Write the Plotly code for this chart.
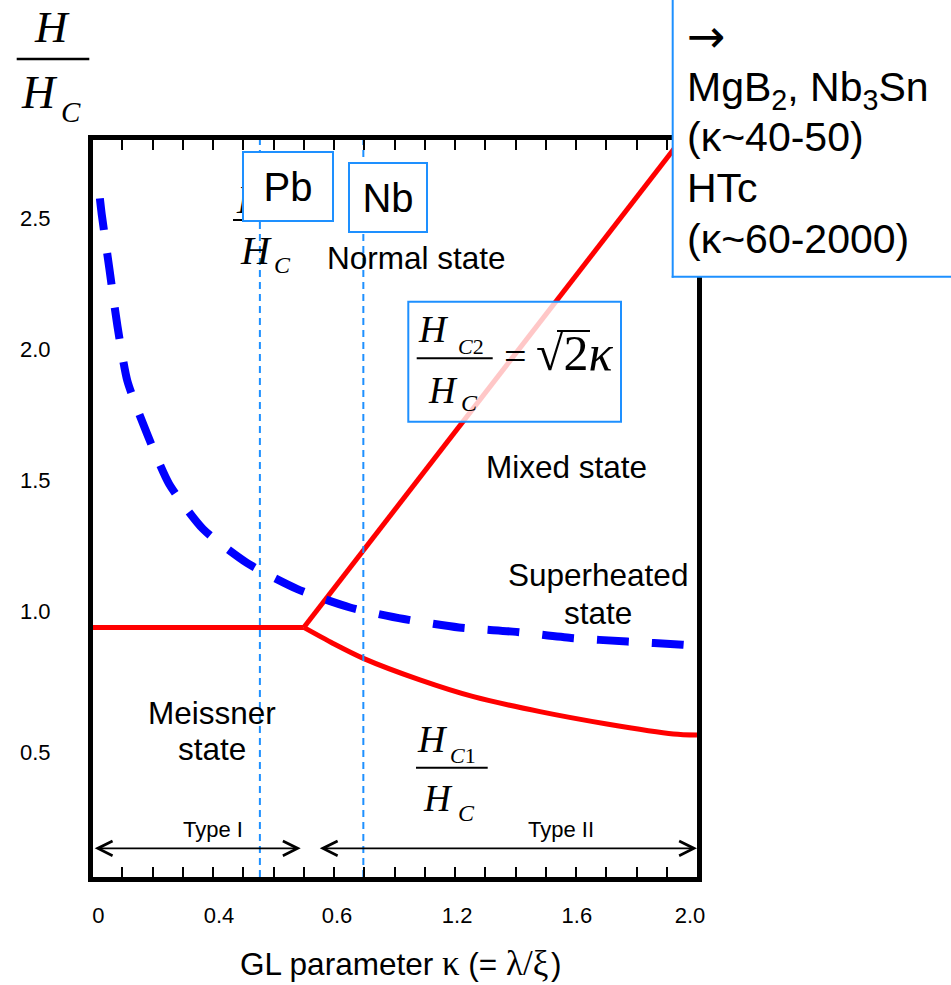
import plotly.graph_objects as go

# ---------------- data ----------------
# thermodynamic critical field line Hc/Hc (Type I boundary)
kappa_hc = [0.0, 0.70]
hc_ratio = [0.94, 0.94]

# upper critical field Hc2/Hc
kappa_hc2 = [0.70, 1.955]
hc2_ratio = [0.94, 2.81]

# lower critical field Hc1/Hc
kappa_hc1 = [0.70, 0.797, 0.897, 1.084, 1.261, 1.481, 1.702, 1.922, 2.0]
hc1_ratio = [0.94, 0.879, 0.822, 0.740, 0.676, 0.619, 0.572, 0.534, 0.530]

# superheating field Hsh/Hc
kappa_sh = [0.026, 0.032, 0.058, 0.084, 0.117, 0.181, 0.255, 0.367, 0.512,
            0.679, 0.853, 1.031, 1.213, 1.402, 1.584, 1.770, 1.952, 2.0]
hsh_ratio = [2.575, 2.516, 2.302, 2.089, 1.879, 1.681, 1.487, 1.315, 1.186,
             1.086, 1.016, 0.972, 0.940, 0.923, 0.900, 0.886, 0.874, 0.869]

# materials marked with vertical dashed lines
materials = ["Pb", "Nb"]
kappa_materials = [0.555, 0.897]

# Type I / Type II ranges (kappa)
type1_range = [0.004, 0.690]
type2_range = [0.748, 2.0]
type_arrow_level = 0.098

# axis tick labels
x_tick_vals = [0.021, 0.420, 0.810, 1.207, 1.603, 1.977]
x_tick_text = ["0", "0.4", "0.6", "1.2", "1.6", "2.0"]
y_tick_vals = [0.463, 1.0, 1.5, 2.0, 2.5]
y_tick_text = ["0.5", "1.0", "1.5", "2.0", "2.5"]
minor_tick_vals = [0.1, 0.2, 0.3, 0.4, 0.5, 0.6, 0.7, 0.8, 0.9, 1.0,
                   1.1, 1.2, 1.3, 1.4, 1.5, 1.6, 1.7, 1.8, 1.9]

X_RANGE = [0.0033, 2.0]
Y_RANGE = [-0.0111, 2.7976]

# ---------------- layout helpers ----------------
W, H = 951, 985
X0, X1, Y0, Y1 = 93, 697, 140, 877   # plot area in pixels
SANS = "Liberation Sans, Arial, sans-serif"
SERIF = "Liberation Serif, Times New Roman, serif"
BOXBLUE = "#1E90FF"


def px(x):
    return (x - X0) / (X1 - X0)


def py(y):
    return (Y1 - y) / (Y1 - Y0)


fig = go.Figure()

red = dict(color="#FF0000", width=5)
fig.add_trace(go.Scatter(x=kappa_hc, y=hc_ratio, mode="lines", line=red,
                         name="Hc", hoverinfo="skip"))
fig.add_trace(go.Scatter(x=kappa_hc2, y=hc2_ratio, mode="lines", line=red,
                         name="Hc2", hoverinfo="skip"))
fig.add_trace(go.Scatter(x=kappa_hc1, y=hc1_ratio, mode="lines",
                         line=dict(color="#FF0000", width=5, shape="spline", smoothing=0.8),
                         name="Hc1", hoverinfo="skip"))
fig.add_trace(go.Scatter(x=kappa_sh, y=hsh_ratio, mode="lines",
                         line=dict(color="#0000FF", width=8, dash="32px,23px",
                                   shape="spline", smoothing=0.6),
                         name="Hsh", hoverinfo="skip"))
for name, k in zip(materials, kappa_materials):
    fig.add_trace(go.Scatter(x=[k, k], y=Y_RANGE, mode="lines",
                             line=dict(color=BOXBLUE, width=2, dash="7px,5px"),
                             name=name, hoverinfo="skip"))

shapes = []
annotations = []


def text(x, y, s, size, family=SANS, xanchor="center", yanchor="middle"):
    annotations.append(dict(x=px(x), y=py(y), xref="paper", yref="paper", text=s,
                            showarrow=False, xanchor=xanchor, yanchor=yanchor,
                            font=dict(size=size, family=family, color="black")))


def seg(xa, xb, ya, yb, width=2, color="black"):
    shapes.append(dict(type="line", xref="paper", yref="paper", x0=px(xa), x1=px(xb),
                       y0=py(ya), y1=py(yb), line=dict(color=color, width=width),
                       layer="above"))


def hline(xa, xb, y, width=2, color="black"):
    seg(xa, xb, y, y, width, color)


def rect(xa, xb, ya, yb, fill, border=True):
    shapes.append(dict(type="rect", xref="paper", yref="paper", x0=px(xa), x1=px(xb),
                       y0=py(yb), y1=py(ya), fillcolor=fill,
                       line=dict(color=BOXBLUE, width=2 if border else 0), layer="above"))


# y-axis title fraction H / H_C (top left)
hline(16.7, 89.3, 59, width=2.5)
text(51.5, 26.5, "<i>H</i>", 45, SERIF)
text(39.2, 92.5, "<i>H</i>", 46, SERIF)
text(70.8, 111.7, "<i>C</i>", 29, SERIF)

# partially hidden fraction behind the Pb box
hline(233, 300, 220)
text(252, 200, "<i>H</i>", 40, SERIF)
text(255.8, 250, "<i>H</i>", 40, SERIF)
text(282.5, 265, "<i>C</i>", 24, SERIF)

# Pb / Nb labels (boxes)
annotations.append(dict(x=px(287.5), y=py(186.2), xref="paper", yref="paper", text="Pb",
                        showarrow=False, font=dict(size=40, family=SANS, color="black"),
                        bgcolor="white", bordercolor=BOXBLUE, borderwidth=2, borderpad=0,
                        width=88, height=67, xanchor="center", yanchor="middle"))
annotations.append(dict(x=px(388.3), y=py(197.8), xref="paper", yref="paper", text="Nb",
                        showarrow=False, font=dict(size=40, family=SANS, color="black"),
                        bgcolor="white", bordercolor=BOXBLUE, borderwidth=2, borderpad=0,
                        width=76, height=67, xanchor="center", yanchor="middle"))

# region labels
text(416.5, 257.6, "Normal state", 31.5)
text(566.3, 466.6, "Mixed state", 31.5)
text(597.5, 575.3, "Superheated", 31.5)
text(597.5, 612.6, "state", 31.5)
text(211.7, 712.6, "Meissner", 31.5)
text(211.8, 749.3, "state", 31.5)

# Hc2 formula box
rect(408.3, 621, 301.7, 421.7, "rgba(255,255,255,0.78)")
hline(416.7, 492.7, 358.3)
text(433.3, 329.2, "<i>H</i>", 38, SERIF)
text(470.8, 346.3, "<i>C</i>2", 22, SERIF)
text(442.5, 390.3, "<i>H</i>", 37, SERIF)
text(469.7, 403.3, "<i>C</i>", 24, SERIF)
text(515.3, 356.3, "=", 40, SERIF)
text(574, 353, "√2<i>κ</i>", 50, SERIF)
hline(557, 590, 331, width=2)

# Hc1 label
hline(416, 487.7, 767.7)
text(432.5, 739.2, "<i>H</i>", 38, SERIF)
text(462.5, 755, "<i>C</i>1", 22, SERIF)
text(438.3, 798, "<i>H</i>", 37, SERIF)
text(466.7, 813.3, "<i>C</i>", 24, SERIF)

# Type I / Type II arrows
for rng in (type1_range, type2_range):
    annotations.append(dict(x=rng[1], y=type_arrow_level, ax=rng[0], ay=type_arrow_level,
                            xref="x", yref="y", axref="x", ayref="y", text="",
                            showarrow=True, arrowside="end+start", arrowhead=5,
                            startarrowhead=5, arrowsize=1.6, startarrowsize=1.6,
                            arrowwidth=1.8, arrowcolor="black", standoff=0, startstandoff=0))
text(213, 829, "Type I", 22)
text(561, 829, "Type II", 22)

# right box with materials (runs off the top and right edges of the picture)
rect(672.7, 1000, -20, 276.7, "white", border=False)
seg(672.7, 672.7, -20, 277.7, color=BOXBLUE)
seg(671.7, 1000, 276.7, 276.7, color=BOXBLUE)
text(685, 36, "→", 46, "DejaVu Sans", xanchor="left")
text(685, 90.5, "MgB<sub>2</sub>, Nb<sub>3</sub>Sn", 41, SANS, xanchor="left")
text(685, 137.5, "(κ~40-50)", 41, SANS, xanchor="left")
text(685, 187.5, "HTc", 41, SANS, xanchor="left")
text(685, 239.1, "(κ~60-2000)", 41, SANS, xanchor="left")

# x-axis title
text(400, 963.5, "GL parameter <span style='font-family:Liberation Serif;font-size:35px'>κ</span> (= "
     "<span style='font-family:Liberation Serif;font-size:35px'>λ/ξ</span>&#8202;)", 31.5)

fig.update_layout(
    width=W, height=H,
    margin=dict(l=X0, r=W - X1, t=Y0, b=H - Y1, pad=0),
    plot_bgcolor="white", paper_bgcolor="white", showlegend=False,
    font=dict(family=SANS, color="black"),
    shapes=shapes, annotations=annotations,
)
fig.update_xaxes(
    range=X_RANGE, showgrid=False, zeroline=False, showline=True, linewidth=5,
    linecolor="black", mirror="ticks", ticks="", tickmode="array",
    tickvals=x_tick_vals, ticktext=x_tick_text, tickfont=dict(size=22, family=SANS),
    ticklabelstandoff=15,
    minor=dict(tickmode="array", tickvals=minor_tick_vals, ticks="inside", ticklen=10,
               tickwidth=2, tickcolor="black", showgrid=False),
)
fig.update_yaxes(
    range=Y_RANGE, showgrid=False, zeroline=False, showline=True, linewidth=5,
    linecolor="black", mirror=True, ticks="", tickmode="array",
    tickvals=y_tick_vals, ticktext=y_tick_text, tickfont=dict(size=22, family=SANS),
    ticklabelstandoff=33,
)

# place the figure at the top-left corner of the page (no default body margin)
fig.write_html("out.html",
               config={"displayModeBar": False},
               post_script="document.body.style.margin='0';"
                           "document.body.style.overflow='hidden';")
